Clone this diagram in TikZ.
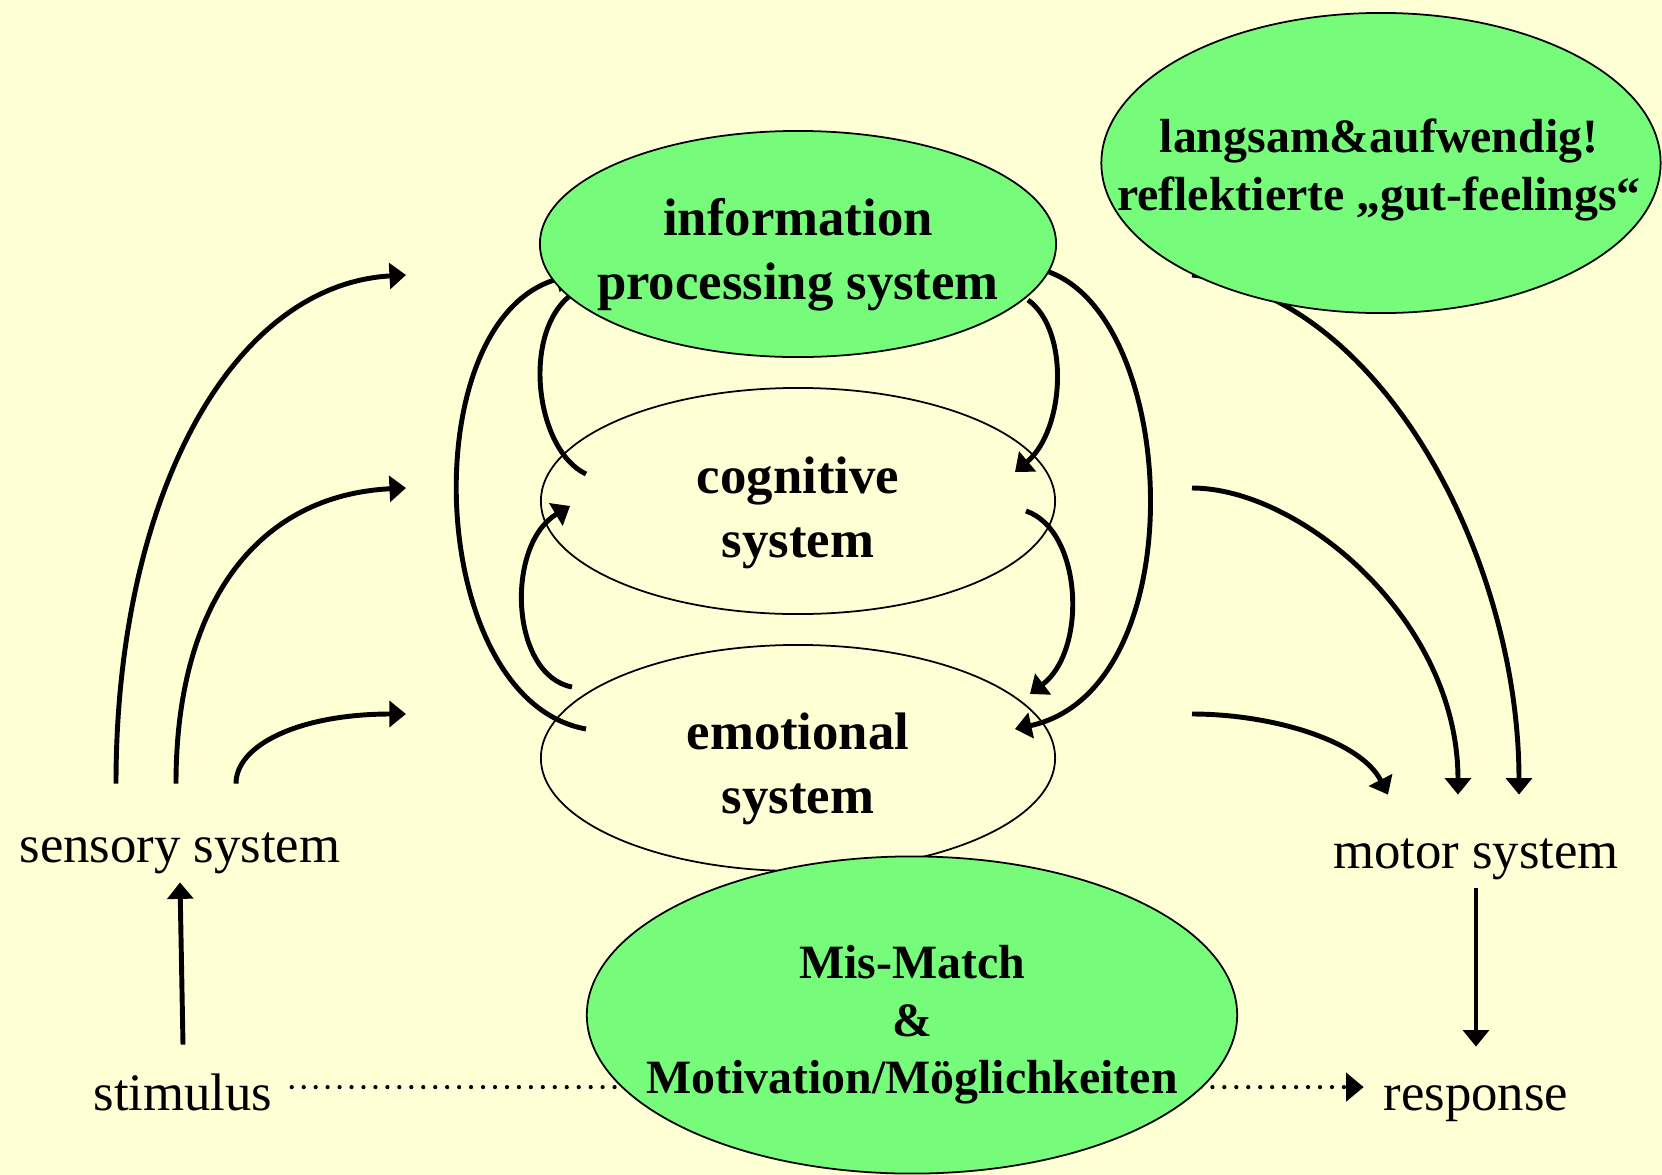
\documentclass[tikz,border=0pt]{standalone}
\usepackage{fontspec}
\setmainfont{Liberation Serif}
\usetikzlibrary{calc,shapes.geometric,arrows.meta}
\definecolor{bgyellow}{RGB}{255,255,213}
\definecolor{nodegreen}{RGB}{119,251,122}
\pgfdeclarelayer{background}
\pgfdeclarelayer{connectors}
\pgfsetlayers{background,connectors,main}

\begin{document}
\begin{tikzpicture}[
        x=0.01cm, y=-0.01cm,
        >={Triangle[length=4.7pt,width=7.3pt]},
        sysell/.style={
            ellipse,
            draw=black,
            line width=0.5pt,
            inner sep=0pt
        },
        greenell/.style={
            sysell,
            fill=nodegreen
        },
        bigtext/.style={
            align=center,
            font=\fontsize{15}{18.1}\selectfont\bfseries
        },
        midtext/.style={
            align=center,
            font=\fontsize{13.6}{16.4}\selectfont\bfseries
        },
        plaintext/.style={
            inner sep=2pt,
            text height=10.5pt,
            text depth=3.5pt,
            font=\fontsize{15}{18}\selectfont
        },
        arrow/.style={
            ->,
            line width=1.4pt
        },
        dotarrow/.style={
            -{Triangle[length=5pt,width=8pt]},
            line width=1.2pt,
            line cap=round,
            dash pattern=on 0pt off 3.4pt
        }
    ]
    \useasboundingbox (0,0) rectangle (1662,1175);
    \begin{pgfonlayer}{background}
        \fill[bgyellow] (0,0) rectangle (1662,1175);
    \end{pgfonlayer}

    % The three systems
    \node[greenell, minimum width=5.16cm, minimum height=2.26cm] (info) at (798,244) {};
    \node[sysell, minimum width=5.14cm, minimum height=2.26cm] (cog) at (798,501) {};
    \node[sysell, minimum width=5.14cm, minimum height=2.26cm] (emo) at (798,758) {};

    % Green notes
    \node[greenell, minimum width=5.59cm, minimum height=3.0cm] (slow) at (1381,163) {};
    \node[greenell, minimum width=6.5cm, minimum height=3.17cm] (mismatch) at (912,1015) {};

    % Texts in the ellipses
    \node[bigtext] (infotext) at (798,255) {information\\processing system};
    \node[bigtext] (cogtext) at (798,513) {cognitive\\system};
    \node[bigtext] (emotext) at (798,769) {emotional\\system};
    \node[midtext] (slowtext) at (1379,170) {langsam\&aufwendig!\\reflektierte „gut-feelings“};
    \node[midtext] (mmtext) at (912,1025) {Mis-Match\\\&\\Motivation/Möglichkeiten};

    % Input and output
    \node[plaintext] (sensory) at (180,850) {sensory system};
    \node[plaintext] (motor) at (1476,856) {motor system};
    \node[plaintext] (stimulus) at (183,1098) {stimulus};
    \node[plaintext] (response) at (1476,1098) {response};

    \begin{pgfonlayer}{connectors}
        % sensory system -> the three systems
        \draw[arrow] ($(sensory.north)+(-64,-34)$) .. controls +(0,-284) and +(-176,10) .. ($(info)+(-392,31)$);
        \draw[arrow] ($(sensory.north)+(-4,-34)$) .. controls +(0,-184) and +(-146,7) .. ($(cog)+(-392,-13)$);
        \draw[arrow] ($(sensory.north)+(56,-34)$) .. controls +(0,-39) and +(-106,0) .. ($(emo)+(-392,-44)$);

        % the three systems -> motor system
        \draw[arrow] ($(info)+(394,31)$) .. controls +(190,20) and +(0,-235) .. ($(motor.north)+(43,-29)$);
        \draw[arrow] ($(cog)+(394,-13)$) .. controls +(108,0) and +(0,-175) .. ($(motor.north)+(-18,-29)$);
        \draw[arrow] ($(emo)+(394,-44)$) .. controls +(78,0) and +(-28,-55) .. ($(motor.north)+(-88,-29)$);

        % feedback on the left
        \draw[arrow] ($(cog)+(-212,-27)$) .. controls +(-51,-24) and +(-67,45) .. ($(info)+(-211,40)$);
        \draw[arrow] ($(emo)+(-212,-29)$) .. controls +(-161,-29) and +(-160,45) .. ($(info)+(-226,31)$);
        \draw[arrow] ($(emo)+(-226,-71)$) .. controls +(-62,-12) and +(-65,39) .. ($(cog)+(-228,5)$);

        % feedback on the right
        \draw[arrow] ($(info)+(230,56)$) .. controls +(42,30) and +(50,-42) .. ($(cog)+(217,-29)$);
        \draw[arrow] ($(info)+(251,28)$) .. controls +(131,48) and +(180,-39) .. ($(emo)+(217,-29)$);
        \draw[arrow] ($(cog)+(228,10)$) .. controls +(56,19) and +(58,-44) .. ($(emo)+(232,-64)$);

        % stimulus -> sensory, motor -> response
        \draw[arrow] ([yshift=6pt]stimulus.north) -- (sensory.south);
        \draw[arrow] (motor.south) -- ([yshift=5.4pt]response.north);

        % stimulus ... response
        \draw[dotarrow] ([xshift=3.3pt,yshift=3.1pt]stimulus.east) -- ([xshift=-3.5pt,yshift=3.1pt]response.west);
    \end{pgfonlayer}
\end{tikzpicture}
\end{document}
